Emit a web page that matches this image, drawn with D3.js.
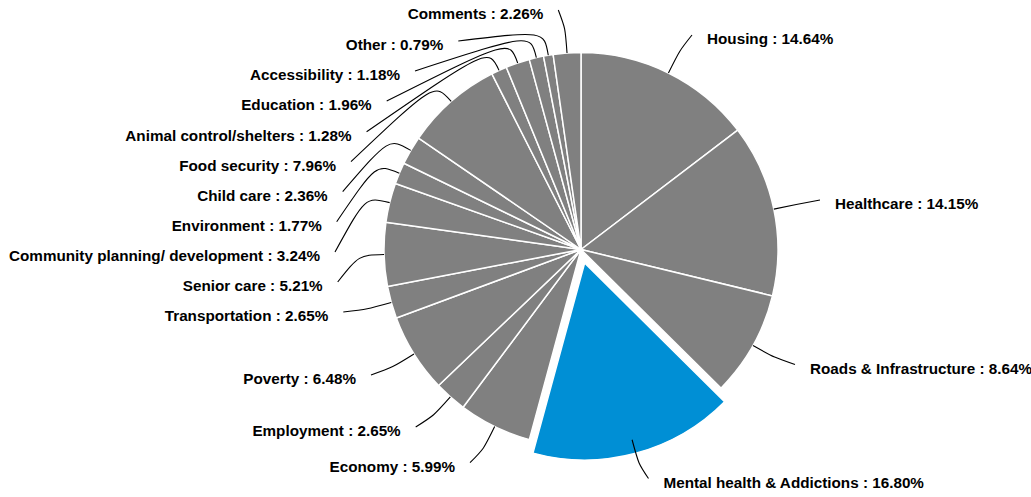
<!DOCTYPE html>
<html>
<head>
<meta charset="utf-8">
<script src="https://cdn.jsdelivr.net/npm/d3@7"></script>
<style>
  html, body { margin: 0; padding: 0; background: #ffffff; }
  svg { display: block; }
</style>
</head>
<body>
<svg id="chart" width="1031" height="497"></svg>
<script>
// ---- data ----
const categories = [
  "Housing", "Healthcare", "Roads & Infrastructure", "Mental health & Addictions",
  "Economy", "Employment", "Poverty", "Transportation", "Senior care",
  "Community planning/ development", "Environment", "Child care", "Food security",
  "Animal control/shelters", "Education", "Accessibility", "Other", "Comments"
];
const values = [
  14.64, 14.15, 8.64, 16.80,
  5.99, 2.65, 6.48, 2.65, 5.21,
  3.24, 1.77, 2.36, 7.96,
  1.28, 1.96, 1.18, 0.79, 2.26
];
const highlighted = ["Mental health & Addictions"];

// ---- layout (label leader end points, side of label) ----
const labelPoints = [
  [692, 35, "right"], [820, 200, "right"], [795, 364.5, "right"], [648.5, 478.5, "right"],
  [470, 462.7, "left"], [415.7, 427, "left"], [371, 375, "left"], [343.3, 312, "left"], [337.7, 282, "left"],
  [335, 252, "left"], [336.7, 221.7, "left"], [342.7, 191.7, "left"], [351, 161.7, "left"],
  [366.6, 131.7, "left"], [386.7, 101, "left"], [415, 71, "left"], [458.3, 41, "left"], [558.3, 10, "left"]
];

const cx = 581, cy = 249.5, R = 197, explode = 14;
const grey = "#808080", blue = "#008fd5";

const svg = d3.select("#chart");
const g = svg.append("g").attr("transform", `translate(${cx},${cy})`);

const data = categories.map((c, i) => ({ cat: c, value: values[i], i }));
const pie = d3.pie().sort(null).value(d => d.value).startAngle(0).endAngle(2 * Math.PI);
const arcs = pie(data);
const arc = d3.arc().innerRadius(0).outerRadius(R);

g.selectAll("path.slice")
  .data(arcs)
  .join("path")
  .attr("class", "slice")
  .attr("d", arc)
  .attr("transform", d => {
    if (!highlighted.includes(d.data.cat)) return null;
    const m = (d.startAngle + d.endAngle) / 2;
    return `translate(${Math.sin(m) * explode},${-Math.cos(m) * explode})`;
  })
  .attr("fill", d => highlighted.includes(d.data.cat) ? blue : grey)
  .attr("stroke", "#ffffff")
  .attr("stroke-width", 1.5)
  .attr("stroke-linejoin", "round");

// leaders and labels
const labels = svg.append("g");
arcs.forEach((d, i) => {
  const m = (d.startAngle + d.endAngle) / 2;
  const ux = Math.sin(m), uy = -Math.cos(m);
  const ax = cx + ux * R, ay = cy + uy * R;
  const qx = ax + ux * 25, qy = ay + uy * 25;
  const [px, py, side] = labelPoints[i];
  const p = d3.path();
  p.moveTo(ax, ay);
  p.bezierCurveTo(qx, qy, qx, qy, px, py);
  labels.append("path")
    .attr("d", p.toString())
    .attr("fill", "none")
    .attr("stroke", "#000000")
    .attr("stroke-width", 1.1);
  labels.append("text")
    .attr("x", side === "right" ? px + 15 : px - 15)
    .attr("y", py + 9)
    .attr("text-anchor", side === "right" ? "start" : "end")
    .attr("font-family", "'Liberation Sans', Arial, sans-serif")
    .attr("font-weight", "bold")
    .attr("font-size", 15.25)
    .attr("fill", "#000000")
    .text(`${d.data.cat} : ${d.data.value.toFixed(2)}%`);
});
</script>
</body>
</html>
